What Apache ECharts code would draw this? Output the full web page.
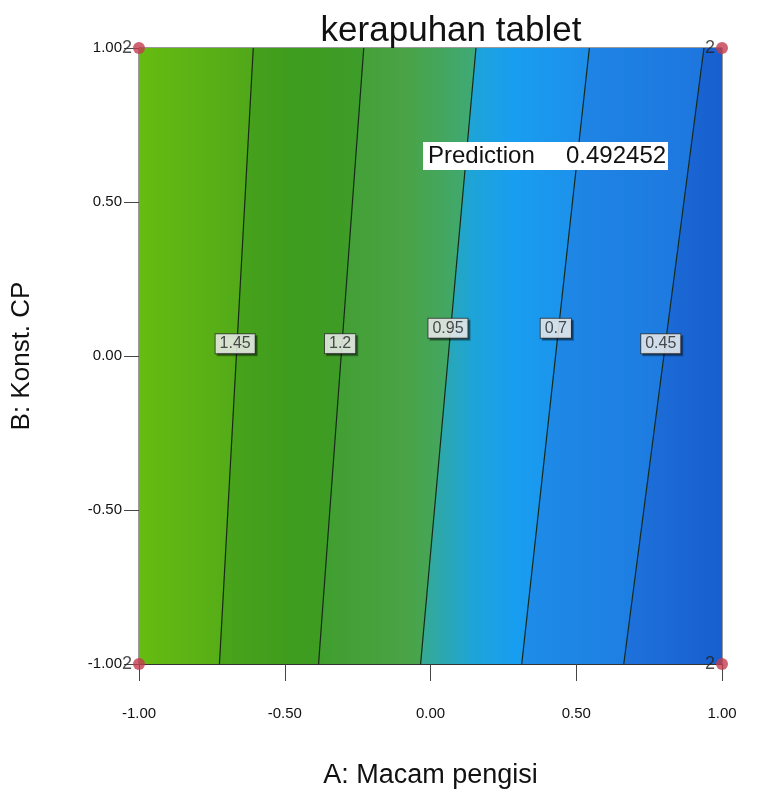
<!DOCTYPE html>
<html>
<head>
<meta charset="utf-8">
<script src="https://cdn.jsdelivr.net/npm/echarts@6/dist/echarts.min.js"></script>
<style>
html,body{margin:0;padding:0;background:#fff;}
#chart{width:757px;height:799px;}
</style>
</head>
<body>
<div id="chart"></div>
<script>
// ---- data ----
const chartTitle = 'kerapuhan tablet';
const xName = 'A: Macam pengisi';
const yName = 'B: Konst. CP';
const xTickLabels = ['-1.00', '-0.50', '0.00', '0.50', '1.00'];
const yTickLabels = ['-1.00', '-0.50', '0.00', '0.50', '1.00'];
const contourLevels = [1.45, 1.2, 0.95, 0.7, 0.45];
const contourLabels = ['1.45', '1.2', '0.95', '0.7', '0.45'];
// A value where each contour crosses B = -1 and B = +1
const contourAatBmin = [-0.724, -0.384, -0.034, 0.313, 0.663];
const contourAatBmax = [-0.608, -0.229, 0.156, 0.545, 0.938];
// label positions (A, B)
const labelA = [-0.67, -0.31, 0.06, 0.43, 0.79];
const labelB = [0.04, 0.04, 0.09, 0.09, 0.04];
// design points (A, B) and replicate counts
const designA = [-1, 1, -1, 1];
const designB = [1, 1, -1, -1];
const designCount = ['2', '2', '2', '2'];
const predictionText = 'Prediction';
const predictionValue = '0.492452';

// ---- styles ----
const bandStops = [
  [[0, '#66bc10'], [1, '#50a81a']],
  [[0, '#4aa41a'], [0.5, '#3e9c1e'], [1, '#3e9c2a']],
  [[0, '#409e2e'], [0.55, '#4aa345'], [1, '#3eaa78']],
  [[0, '#36aa90'], [0.3, '#1ea4d6'], [0.55, '#189ef0'], [1, '#1e8eea']],
  [[0, '#1e8ce8'], [1, '#1e76de']],
  [[0, '#1e72dc'], [1, '#175fce']]
];
const FONT = 'Liberation Sans, Arial, sans-serif';

const chart = echarts.init(document.getElementById('chart'));

const bandIdx = bandStops.map((_, i) => [i]);

function bandEdge(i, side) {
  if (i < 0) return -1;
  if (i >= contourLevels.length) return 1;
  return side === 0 ? contourAatBmin[i] : contourAatBmax[i];
}

const series = [];
series.push({
  type: 'custom',
  silent: true,
  clip: true,
  data: bandIdx,
  encode: { x: -1, y: -1 },
  renderItem: function (params, api) {
    const i = params.dataIndex;
    const lb = api.coord([bandEdge(i - 1, 0), -1]);
    const rb = api.coord([bandEdge(i, 0), -1]);
    const rt = api.coord([bandEdge(i, 1), 1]);
    const lt = api.coord([bandEdge(i - 1, 1), 1]);
    const ext = i < bandStops.length - 1 ? 1 : 0;
    return {
      type: 'polygon',
      shape: { points: [lb, [rb[0] + ext, rb[1]], [rt[0] + ext, rt[1]], lt] },
      style: {
        fill: new echarts.graphic.LinearGradient(0, 0, 1, 0,
          bandStops[i].map(s => ({ offset: s[0], color: s[1] }))),
        stroke: null
      }
    };
  },
  z: 1
});

contourLevels.forEach((lv, i) => {
  series.push({
    type: 'line',
    silent: true,
    symbol: 'none',
    data: [[contourAatBmin[i], -1], [contourAatBmax[i], 1]],
    lineStyle: { color: '#17291a', width: 1.2 },
    z: 3
  });
});

series.push({
  type: 'scatter',
  silent: true,
  symbolSize: 0,
  data: labelA.map((a, i) => ({ value: [a, labelB[i]], name: contourLabels[i] })),
  label: {
    show: true,
    position: 'inside',
    formatter: p => p.name,
    fontFamily: FONT,
    fontSize: 16,
    color: '#222',
    backgroundColor: '#fff',
    borderColor: '#333',
    borderWidth: 1,
    padding: [2, 4, 1, 4],
    shadowColor: 'rgba(0,0,0,0.4)',
    shadowOffsetX: 2,
    shadowOffsetY: 2,
    shadowBlur: 0
  },
  z: 5
});

series.push({
  type: 'scatter',
  silent: true,
  symbol: 'circle',
  symbolSize: 12,
  itemStyle: { color: '#c43c4e' },
  data: designA.map((a, i) => ({ value: [a, designB[i]], name: designCount[i] })),
  label: {
    show: true,
    position: 'left',
    distance: 1,
    formatter: p => p.name,
    fontFamily: FONT,
    fontSize: 18,
    color: '#222'
  },
  clip: false,
  z: 6
});

chart.setOption({
  animation: false,
  backgroundColor: '#fff',
  title: {
    text: chartTitle,
    left: 446,
    textAlign: 'center',
    top: 9,
    textStyle: { fontFamily: FONT, fontSize: 35, fontWeight: 'normal', color: '#111' }
  },
  grid: {
    left: 139, right: 35, top: 48, bottom: 135,
    show: true, borderColor: '#333', borderWidth: 1, backgroundColor: 'transparent'
  },
  xAxis: {
    type: 'value', min: -1, max: 1, interval: 0.5,
    name: xName, nameLocation: 'middle', nameGap: 98,
    nameTextStyle: { fontFamily: FONT, fontSize: 27, color: '#111' },
    axisLine: { show: true, onZero: false, lineStyle: { color: '#333' } },
    axisTick: { show: true, length: 17, lineStyle: { color: '#444' } },
    axisLabel: {
      margin: 42, fontFamily: FONT, fontSize: 15, color: '#111',
      formatter: v => xTickLabels[Math.round((v + 1) / 0.5)]
    },
    splitLine: { show: false }
  },
  yAxis: {
    type: 'value', min: -1, max: 1, interval: 0.5,
    name: yName, nameLocation: 'middle', nameGap: 104, nameRotate: 90,
    nameTextStyle: { fontFamily: FONT, fontSize: 26, color: '#111' },
    axisLine: { show: true, onZero: false, lineStyle: { color: '#333' } },
    axisTick: { show: true, length: 15, lineStyle: { color: '#444' } },
    axisLabel: {
      margin: 17, fontFamily: FONT, fontSize: 15, color: '#111',
      formatter: v => yTickLabels[Math.round((v + 1) / 0.5)]
    },
    splitLine: { show: false }
  },
  graphic: [
    { type: 'rect', z: 100, shape: { x: 423, y: 142, width: 245, height: 28 }, style: { fill: '#ffffff' } },
    { type: 'text', z: 101, x: 428, y: 144, style: { text: predictionText, font: '24px Liberation Sans', fill: '#111' } },
    { type: 'text', z: 101, x: 566, y: 144, style: { text: predictionValue, font: '24px Liberation Sans', fill: '#111' } }
  ],
  series: series
});
</script>
</body>
</html>
